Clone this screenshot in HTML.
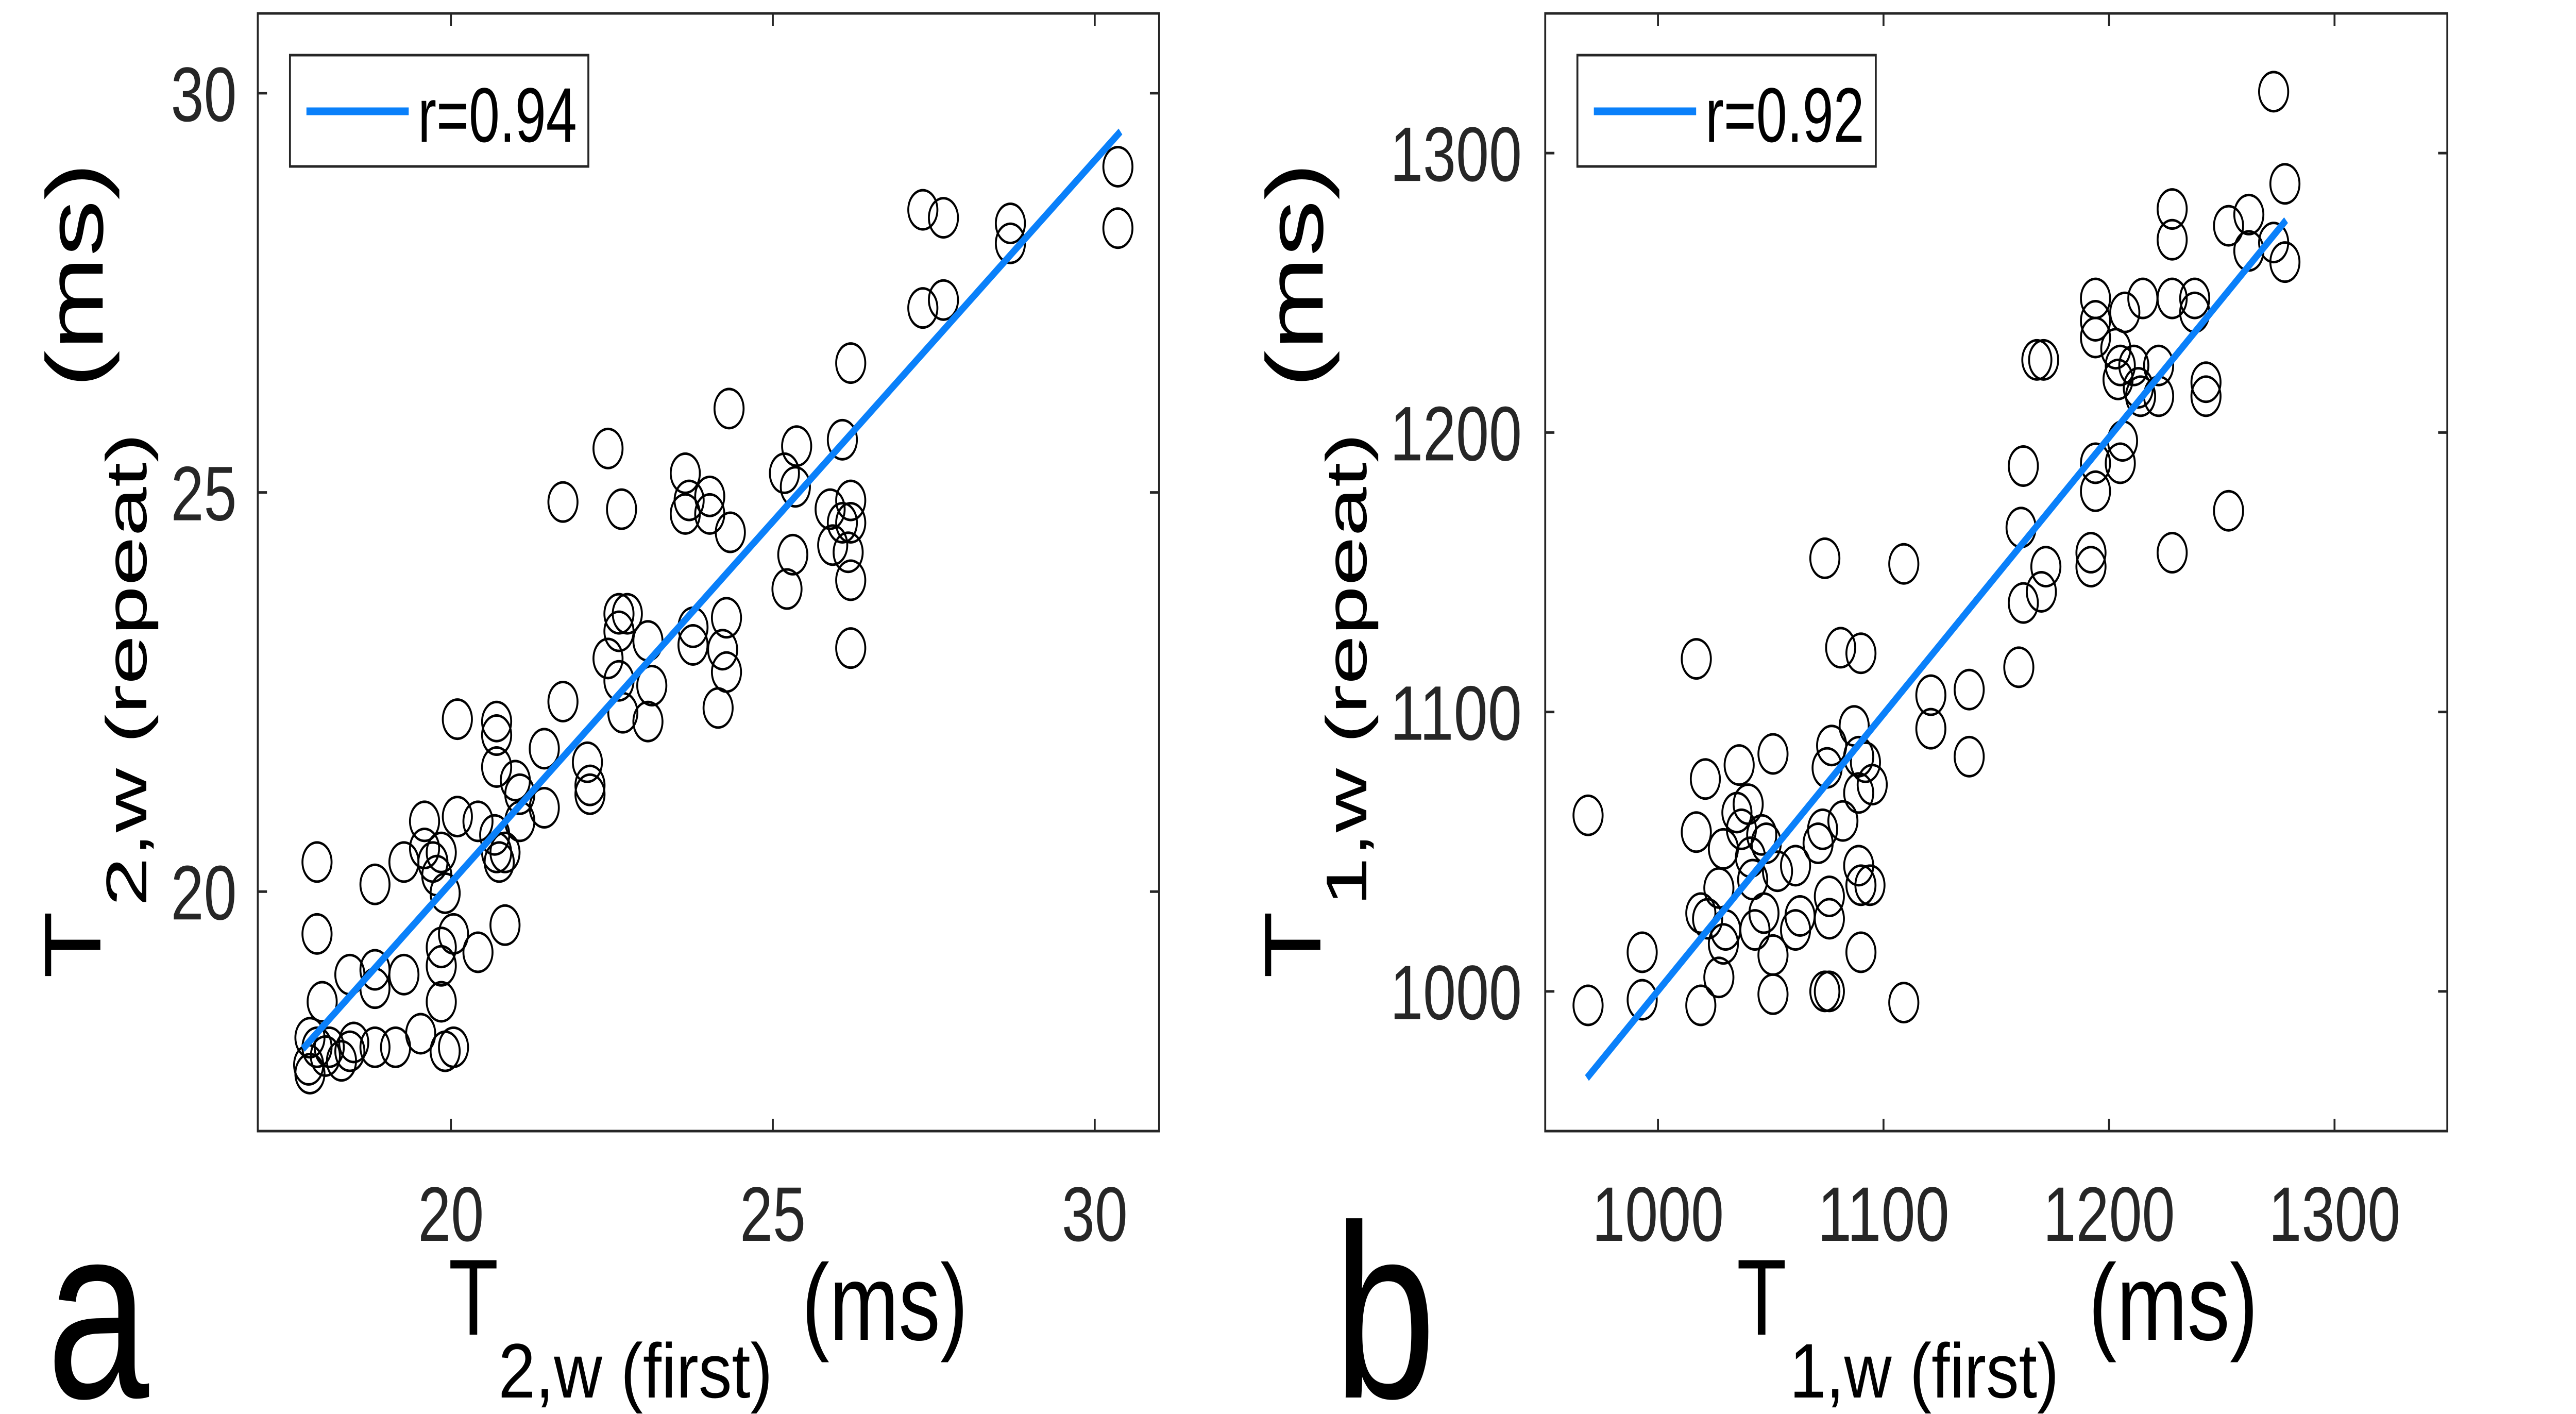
<!DOCTYPE html>
<html><head><meta charset="utf-8"><style>
html,body{margin:0;padding:0;background:#fff;width:100%;height:100%;overflow:hidden;}
svg{display:block;width:100vw;height:100vh;}
text{font-family:"Liberation Sans",Arial,sans-serif;}
</style></head><body>
<svg id="fig" viewBox="0 0 6725 2744" preserveAspectRatio="none" xmlns="http://www.w3.org/2000/svg">
<rect width="6725" height="2744" fill="#fff"/>
</svg>
<script>
// Panel a data (T2,w first vs repeat, ms)
const aX = [17.92,17.92,18.0,17.81,17.92,17.79,17.81,18.05,18.11,18.3,18.43,18.49,18.43,18.82,18.82,18.82,18.82,19.14,19.27,19.27,19.53,19.59,19.59,19.72,19.85,19.78,19.91,19.85,19.85,19.85,19.91,20.04,20.04,20.1,20.1,20.42,20.42,20.71,20.71,20.71,20.68,20.71,20.75,20.84,20.84,21.0,21.07,21.07,21.45,21.45,21.74,21.74,22.12,22.16,22.16,22.44,22.44,22.61,22.65,22.61,22.61,22.67,22.74,23.06,23.06,23.12,23.64,23.64,23.70,23.76,23.76,24.02,24.02,24.15,24.22,24.28,24.28,24.34,24.32,25.22,25.31,25.18,25.37,25.35,25.89,25.93,26.08,26.08,26.17,26.21,26.21,26.21,26.21,26.21,27.33,27.65,27.33,27.65,28.69,28.69,30.36,30.36];
const aY = [20.37,19.47,18.62,18.17,18.05,17.83,17.72,17.94,18.05,17.88,18.0,18.11,18.96,20.09,19.02,18.79,18.05,18.05,18.96,20.37,18.22,20.88,20.54,20.37,20.49,20.2,19.98,19.3,19.07,18.62,18.0,18.05,19.47,22.16,20.94,19.24,20.88,22.13,21.96,21.56,20.71,20.49,20.37,20.49,19.58,21.39,21.22,20.88,21.79,21.05,22.38,24.88,21.62,21.33,21.22,25.55,22.92,23.48,24.79,23.26,22.64,22.24,23.48,23.14,22.13,22.58,25.24,24.73,24.9,23.31,23.09,24.95,24.73,22.3,23.03,22.75,23.43,24.5,26.05,23.79,24.22,25.24,25.58,25.07,24.79,24.34,25.66,24.62,24.25,24.62,24.9,23.9,23.05,26.62,28.54,28.44,27.31,27.41,28.37,28.12,29.08,28.31];
const aFitX = [17.70,30.40];
const aFitY = [18.03,29.52];
const aXTicks = [20,25,30];
const aYTicks = [20,25,30];
const aXTickLabels = ["20","25","30"];
const aYTickLabels = ["20","25","30"];
const aLegend = "r=0.94";
// Panel b data (T1,w first vs repeat, ms)
const bX = [969,969,993,993,1017,1017,1019,1021,1019,1022,1027,1027,1029,1030,1029,1036,1035,1037,1040,1041,1042,1043,1046,1048,1047,1051,1051,1051,1053,1061,1061,1063,1071,1073,1074,1074,1076,1076,1076,1075,1077,1081,1082,1087,1089,1090,1089,1089,1090,1090,1092,1095,1094,1109,1109,1121,1121,1138,1138,1160,1161,1162,1162,1170,1172,1168,1171,1192,1192,1194,1194,1194,1194,1194,1203,1204,1205,1206,1205,1207,1211,1213,1214,1215,1222,1222,1228,1228,1228,1228,1238,1238,1243,1243,1253,1253,1262,1262,1273,1273,1278,1278];
const bY = [1063,995,1014,997,1119,1057,995,1076,1028,1026,1005,1037,1017,1022,1051,1081,1064,1058,1067,1048,1040,1022,1056,1053,1028,1085,1013,999,1043,1045,1022,1027,1053,1058,1155,1000,1000,1034,1026,1080,1088,1123,1061,1095,1084,1121,1071,1045,1038,1014,1082,1074,1038,1153,996,1106,1094,1108,1084,1116,1166,1188,1139,1143,1152,1226,1226,1157,1152,1179,1189,1248,1240,1234,1230,1219,1189,1197,1224,1243,1224,1216,1213,1248,1224,1213,1248,1280,1269,1157,1243,1248,1218,1213,1274,1172,1278,1265,1322,1268,1289,1261];
const bFitX = [968.5,1278.5];
const bFitY = [969,1276];
const bXTicks = [1000,1100,1200,1300];
const bYTicks = [1000,1100,1200,1300];
const bXTickLabels = ["1000","1100","1200","1300"];
const bYTickLabels = ["1000","1100","1200","1300"];
const bLegend = "r=0.92";

const NS = "http://www.w3.org/2000/svg";
const svg = document.getElementById('fig');
function mk(tag, attrs, parent){
  const e = document.createElementNS(NS, tag);
  for (const k in attrs) e.setAttribute(k, attrs[k]);
  (parent||svg).appendChild(e);
  return e;
}

function panel(cfg){
  const g = mk('g', {});
  
  
  const L=cfg.L, R=cfg.R, T=26, B=2195;
  const sx = v => L + (v - cfg.xmin)/(cfg.xmax - cfg.xmin)*(R-L);
  const sy = v => B - (v - cfg.ymin)/(cfg.ymax - cfg.ymin)*(B-T);
  const pg = mk('g', {}, g);
  
  
  for (let i=0;i<cfg.xs.length;i++){
    const c = mk('circle', {cx:sx(cfg.xs[i]), cy:sy(cfg.ys[i]), r:38, fill:'none', stroke:'#000', 'stroke-width':5}, pg);
    
    
  }
  const fl = mk('line', {x1:sx(cfg.fx[0]), y1:sy(cfg.fy[0]), x2:sx(cfg.fx[1]), y2:sy(cfg.fy[1]), stroke:'#0a80fa', 'stroke-width':15}, g);
  
  
  const box = mk('rect', {x:L, y:T, width:R-L, height:B-T, fill:'none', stroke:'#262626', 'stroke-width':5}, g);
  
  
  cfg.xt.forEach((v,i)=>{
    const x = sx(v);
    mk('line',{x1:x,y1:B,x2:x,y2:B-24,stroke:'#262626','stroke-width':5},g);
    mk('line',{x1:x,y1:T,x2:x,y2:T+24,stroke:'#262626','stroke-width':5},g);
    const t = mk('text',{x:x,y:2408,'text-anchor':'middle','font-size':150,fill:'#262626',textLength:cfg.xtl[i].length*86,lengthAdjust:'spacingAndGlyphs'},g);
    t.textContent = cfg.xtl[i];
    
    
  });
  cfg.yt.forEach((v,i)=>{
    const y = sy(v);
    mk('line',{x1:L,y1:y,x2:L+24,y2:y,stroke:'#262626','stroke-width':5},g);
    mk('line',{x1:R,y1:y,x2:R-24,y2:y,stroke:'#262626','stroke-width':5},g);
    const t = mk('text',{x:cfg.ytx,y:y+54,'text-anchor':'end','font-size':150,fill:'#262626',textLength:cfg.ytl[i].length*86,lengthAdjust:'spacingAndGlyphs'},g);
    t.textContent = cfg.ytl[i];
    
    
  });
  const lg = mk('g',{},g);
  
  
  mk('rect',{x:L+84,y:107,width:779,height:216,fill:'#fff',stroke:'#262626','stroke-width':5},lg);
  mk('line',{x1:L+127,y1:216,x2:L+394,y2:216,stroke:'#0a80fa','stroke-width':15},lg);
  const lt = mk('text',{x:L+418,y:275,'font-size':150,fill:'#000',textLength:415,lengthAdjust:'spacingAndGlyphs'},lg);
  lt.textContent = cfg.leg;
  
  
  return g;
}

panel({id:'a', L:673, R:3026, xmin:17, xmax:31, ymin:17, ymax:31, xs:aX, ys:aY, fx:aFitX, fy:aFitY,
  xt:aXTicks, yt:aYTicks, xtl:aXTickLabels, ytl:aYTickLabels, ytx:618, leg:aLegend});
panel({id:'b', L:4034, R:6389, xmin:950, xmax:1350, ymin:950, ymax:1350, xs:bX, ys:bY, fx:bFitX, fy:bFitY,
  xt:bXTicks, yt:bYTicks, xtl:bXTickLabels, ytl:bYTickLabels, ytx:3973, leg:bLegend});

function label(name, parts){
  const g = mk('g', {});
  
  
  parts.forEach(p=>{
    const t = mk('text',{x:p[1],y:p[2],'font-size':p[3],fill:'#000',textLength:p[4],lengthAdjust:'spacingAndGlyphs'},g);
    t.textContent = p[0];
  });
}
function vlabel(name, parts){
  const g = mk('g', {});
  
  
  parts.forEach(p=>{
    const t = mk('text',{x:0,y:0,transform:'translate('+p[1]+','+p[2]+') rotate(-90)','font-size':p[3],fill:'#000',textLength:p[4],lengthAdjust:'spacingAndGlyphs'},g);
    t.textContent = p[0];
  });
}
label('x-axis-title-a', [["T",1171,2590,210,130],["2,w (first)",1301,2712,150,716],["(ms)",2093,2600,210,434]]);
label('x-axis-title-b', [["T",4534,2590,210,130],["1,w (first)",4672,2712,150,703],["(ms)",5452,2600,210,443]]);
vlabel('y-axis-title-a', [["T",262,1899,210,131],["2,w (repeat)",382,1759,150,919],["(ms)",268,753,210,438]]);
vlabel('y-axis-title-b', [["T",3447,1899,210,131],["1,w (repeat)",3567,1759,150,919],["(ms)",3453,753,210,438]]);
const pa = mk('text',{x:122,y:2712,'font-size':480,fill:'#000'}); pa.textContent='a';


const pb = mk('text',{x:3482,y:2712,'font-size':480,fill:'#000'}); pb.textContent='b';


</script>
</body></html>
